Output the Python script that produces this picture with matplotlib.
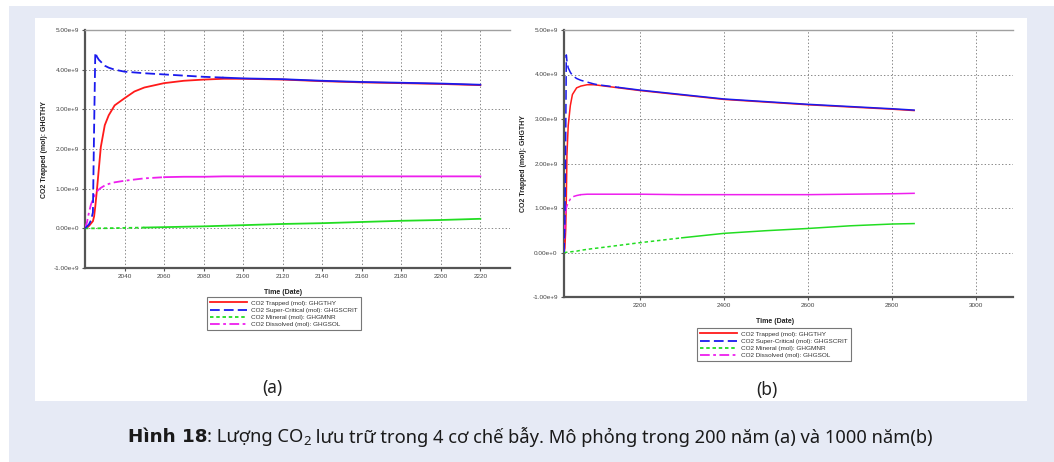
import numpy as np
import matplotlib
matplotlib.use("Agg")
import matplotlib.pyplot as plt
from matplotlib.patches import Rectangle
from matplotlib.lines import Line2D
from matplotlib.ticker import FuncFormatter

plt.rcParams['lines.scale_dashes'] = False

# ---------------- data (values in 1e9 mol) ----------------
years_a = [2020, 2021, 2022, 2023, 2024, 2024.6, 2025.2, 2026, 2027, 2028, 2030, 2032,
           2035, 2040, 2045, 2050, 2060, 2070, 2080, 2090, 2100, 2120, 2140, 2160,
           2180, 2200, 2220]
trapped_a = [0, 0.02, 0.06, 0.12, 0.18, 0.3, 0.55, 0.95, 1.5, 2.05, 2.6, 2.85,
             3.1, 3.28, 3.45, 3.55, 3.66, 3.72, 3.75, 3.77, 3.77, 3.75, 3.71, 3.68,
             3.66, 3.64, 3.61]
supercrit_a = [0, 0.05, 0.1, 0.2, 0.4, 2.5, 4.43, 4.33, 4.25, 4.2, 4.1, 4.05,
               4.0, 3.95, 3.93, 3.91, 3.88, 3.85, 3.82, 3.8, 3.78, 3.76, 3.72, 3.69,
               3.67, 3.65, 3.62]
mineral_a = [0, 0, 0, 0, 0, 0, 0, 0, 0.001, 0.002, 0.003, 0.004,
             0.006, 0.01, 0.015, 0.02, 0.03, 0.04, 0.05, 0.065, 0.08, 0.11, 0.13, 0.16,
             0.19, 0.21, 0.24]
dissolved_a = [0, 0.15, 0.4, 0.6, 0.72, 0.8, 0.86, 0.93, 0.98, 1.02, 1.08, 1.12,
               1.16, 1.2, 1.23, 1.26, 1.29, 1.3, 1.3, 1.31, 1.31, 1.31, 1.31, 1.31,
               1.31, 1.31, 1.31]

years_b = [2020, 2022, 2024, 2025.5, 2027, 2030, 2035, 2040, 2050, 2060, 2075, 2090,
           2100, 2125, 2150, 2200, 2300, 2400, 2500, 2600, 2700, 2800, 2852]
trapped_b = [0, 0.1, 0.5, 1.2, 2.2, 2.85, 3.3, 3.55, 3.7, 3.74, 3.77, 3.77,
             3.76, 3.73, 3.7, 3.64, 3.54, 3.44, 3.38, 3.32, 3.27, 3.22, 3.19]
supercrit_b = [0, 0.6, 2.5, 4.44, 4.3, 4.15, 4.05, 3.98, 3.91, 3.87, 3.83, 3.79,
               3.77, 3.74, 3.71, 3.65, 3.55, 3.45, 3.39, 3.33, 3.28, 3.23, 3.2]
mineral_b = [0, 0.001, 0.003, 0.004, 0.006, 0.01, 0.015, 0.02, 0.03, 0.05, 0.07, 0.09,
             0.1, 0.13, 0.16, 0.22, 0.33, 0.43, 0.49, 0.54, 0.6, 0.64, 0.65]
dissolved_b = [0, 0.6, 0.9, 1.0, 1.05, 1.12, 1.2, 1.25, 1.28, 1.3, 1.31, 1.31,
               1.31, 1.31, 1.31, 1.31, 1.3, 1.3, 1.3, 1.3, 1.31, 1.32, 1.33]

labels = ["CO2 Trapped (mol): GHGTHY", "CO2 Super-Critical (mol): GHGSCRIT",
          "CO2 Mineral (mol): GHGMNR", "CO2 Dissolved (mol): GHGSOL"]
y_ticks = [-1, 0, 1, 2, 3, 4, 5]
x_ticks_a = [2040, 2060, 2080, 2100, 2120, 2140, 2160, 2180, 2200, 2220]
x_ticks_b = [2200, 2400, 2600, 2800, 3000]

colors = ["#ff1a1a", "#1a1aee", "#22dd22", "#ee1fee"]
styles = ["-", (0, (7, 3)), (0, (2.5, 2)), (0, (7, 2.5, 2, 2.5))]
# beyond these years the renderer of the original draws the lines as solid
solid_after_a = [None, 2090, 2050, 2060]
solid_after_b = [None, 2150, 2300, 2060]

W, H = 1054, 462
fig = plt.figure(figsize=(W / 100, H / 100), dpi=100)
fig.patch.set_facecolor("white")


def fx(px):
    return px / W


def fy(py):
    return 1 - py / H


fig.add_artist(Rectangle((fx(9), 0), 1 - fx(9), fy(6), transform=fig.transFigure,
                         facecolor="#e6eaf5", edgecolor="none", zorder=-10))
fig.add_artist(Rectangle((fx(35), fy(401)), fx(1027) - fx(35), fy(18) - fy(401),
                         transform=fig.transFigure, facecolor="white",
                         edgecolor="none", zorder=-9))

tick_family = "Liberation Sans"
tick_size = 4.6


def fmt(v, pos):
    if abs(v) < 1e-3:
        return "0.00e+0"
    return f"{v:.2f}e+9"


def setup(ax, xlim, xticks, ylab_off, xlab_pos):
    ax.set_xlim(*xlim)
    ax.set_ylim(-1, 5)
    ax.set_xticks(xticks)
    ax.set_yticks(y_ticks)
    ax.yaxis.set_major_formatter(FuncFormatter(fmt))
    ax.grid(True, color="#888888", linestyle=(0, (1, 1.5)), linewidth=0.7)
    ax.set_axisbelow(True)
    for s in ["left", "bottom"]:
        ax.spines[s].set_color("#555555")
        ax.spines[s].set_linewidth(1.6)
    ax.spines["top"].set_color("#a0a0a0")
    ax.spines["top"].set_linewidth(1.0)
    ax.spines["right"].set_visible(False)
    ax.tick_params(axis="both", direction="out", length=2.5, width=0.8,
                   color="#555555", labelcolor="#444444", pad=2)
    for lab in ax.get_xticklabels() + ax.get_yticklabels():
        lab.set_fontfamily(tick_family)
        lab.set_fontsize(tick_size)
    ax.set_ylabel("CO2 Trapped (mol): GHGTHY", fontsize=5, fontweight="bold",
                  family="Liberation Sans", color="#222222")
    ax.yaxis.set_label_coords(ylab_off, 0.5)
    ax.set_xlabel("Time (Date)", fontsize=5, fontweight="bold",
                  family="Liberation Sans", color="#222222")
    ax.xaxis.set_label_coords(*xlab_pos)


def draw(ax, yrs, series, lw, solid_after):
    yrs = np.asarray(yrs, dtype=float)
    order = [0, 3, 2, 1]
    for i in order:
        vals = np.asarray(series[i], dtype=float) * 1e9 / 1e9
        z = 3 + (i == 1)
        cut = solid_after[i]
        if cut is None:
            ax.plot(yrs, vals, color=colors[i], linestyle=styles[i], linewidth=lw,
                    zorder=z)
        else:
            m1 = yrs <= cut
            k = int(m1.sum())
            ax.plot(yrs[:k], vals[:k], color=colors[i], linestyle=styles[i],
                    linewidth=lw, zorder=z)
            ax.plot(yrs[k - 1:], vals[k - 1:], color=colors[i], linestyle="-",
                    linewidth=lw, zorder=z)


ax_a = fig.add_axes([fx(85), fy(268), fx(510) - fx(85), fy(30) - fy(268)])
setup(ax_a, (2020, 2235), x_ticks_a, -37 / 425, (0.466, -0.088))
draw(ax_a, years_a, [trapped_a, supercrit_a, mineral_a, dissolved_a], 1.3,
     solid_after_a)

ax_b = fig.add_axes([fx(564), fy(297), fx(1013) - fx(564), fy(30) - fy(297)])
setup(ax_b, (2020, 3087), x_ticks_b, -37 / 449, (0.47, -0.079))
draw(ax_b, years_b, [trapped_b, supercrit_b, mineral_b, dissolved_b], 1.1,
     solid_after_b)

handles = [Line2D([], [], color=colors[i], linestyle=styles[i], linewidth=1.3)
           for i in range(4)]
for ax, (lx, ly) in [(ax_a, (207, 297)), (ax_b, (697, 328))]:
    leg = ax.legend(handles, labels, loc="upper left",
                    bbox_to_anchor=(fx(lx), fy(ly)), bbox_transform=fig.transFigure,
                    prop=dict(family="Liberation Sans", size=4.6),
                    frameon=True, fancybox=False, edgecolor="#555555",
                    handlelength=5.8, handletextpad=0.6, labelspacing=0.25,
                    borderpad=0.5, borderaxespad=0)
    leg.get_frame().set_linewidth(0.8)
    for t in leg.get_texts():
        t.set_color("#333333")

fig.text(fx(272), fy(388), "(a)", fontsize=12.5, family="Noto Sans",
         ha="center", va="center", color="#222222")
fig.text(fx(767), fy(390), "(b)", fontsize=12.5, family="Noto Sans",
         ha="center", va="center", color="#222222")

# caption built from pieces, then centred
fam = ["Noto Sans", "DejaVu Sans"]
cap_y = fy(437)
pieces = [
    ("Hình 18", dict(fontweight="bold", fontsize=13.2,
                     family=["DejaVu Sans"]), 0),
    (": Lượng CO", dict(fontsize=13.2, family=fam), 0),
    ("2", dict(fontsize=9.5, family=fam), -0.010),
    (" lưu trữ trong 4 cơ chế bẫy. Mô phỏng trong 200 năm (a) và 1000 năm(b)",
     dict(fontsize=13.2, family=fam), 0),
]
texts = []
for s, kw, dy in pieces:
    t = fig.text(0, cap_y + dy, s, color="#1a1a1a", va="center", ha="left", **kw)
    texts.append(t)
fig.canvas.draw()
r = fig.canvas.get_renderer()
widths = [t.get_window_extent(r).width / W for t in texts]
total = sum(widths)
x0 = fx(530) - total / 2
for t, w in zip(texts, widths):
    t.set_x(x0)
    x0 += w

fig.savefig("out.png", dpi=100)
